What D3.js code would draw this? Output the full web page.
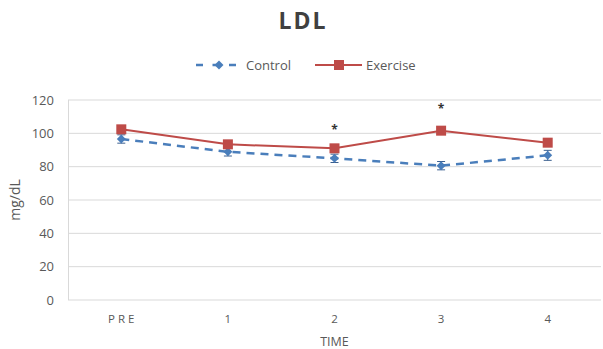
<!DOCTYPE html>
<html><head><meta charset="utf-8">
<script src="https://cdn.jsdelivr.net/npm/d3@7"></script>
<style>body{margin:0;background:#fff;font-family:"Open Sans",sans-serif}</style>
</head><body>
<svg id="c" width="603" height="349"></svg>
<script>
const categories = ["PRE","1","2","3","4"];
const controlValues = [96.6, 88.9, 85.0, 80.6, 86.8];
const controlErr = [2.5, 2.5, 2.5, 2.5, 3];
const exerciseValues = [102.4, 93.4, 91.0, 101.6, 94.4];
const exerciseErr = [1.5, 1.5, 1.5, 1.5, 1.5];
const yTicks = [0,20,40,60,80,100,120];
const sigCategories = ["2","3"];
const sigValues = [103.8, 116.0];

const svg = d3.select("#c");
const m = {l:68, r:2, t:100, b:49};
const W = 603, H = 349;
const x = d3.scaleBand().domain(categories).range([m.l, W-m.r]);
const y = d3.scaleLinear().domain([0,120]).range([H-m.b, m.t]);
const cx = d => x(d)+x.bandwidth()/2;

// gridlines
svg.append("g").selectAll("line").data(yTicks).join("line")
  .attr("x1", m.l).attr("x2", W-m.r)
  .attr("y1", d=>y(d)).attr("y2", d=>y(d))
  .attr("stroke", "#d9d9d9").attr("stroke-width", 1);
svg.append("line").attr("x1", m.l+0.5).attr("x2", m.l+0.5).attr("y1", y(120)).attr("y2", y(0))
  .attr("stroke","#d9d9d9");

// y axis labels
const ya = svg.append("g").attr("transform",`translate(${m.l},0)`)
  .call(d3.axisLeft(y).tickValues(yTicks).tickSize(0).tickPadding(14));
ya.select(".domain").remove();
ya.selectAll("text").attr("fill","#595959").style("font-size","13px").style("font-family","Open Sans, sans-serif");

// x axis labels
const xa = svg.append("g").attr("transform",`translate(0,${y(0)})`)
  .call(d3.axisBottom(x).tickSize(0).tickPadding(15));
xa.select(".domain").remove();
xa.selectAll("text").attr("fill","#595959").style("font-size","11.5px").style("font-family","Open Sans, sans-serif")
  .style("letter-spacing", d=> d==="PRE" ? "3px":"0px")
  .attr("dx", d=> d==="PRE" ? "1.5px":"0px");

// titles
svg.append("text").attr("x", 303).attr("y", 29).attr("text-anchor","middle")
  .style("font-size","23px").style("font-weight","bold").attr("fill","#404040").style("letter-spacing","2px").text("LDL");
svg.append("text").attr("x", (m.l+W-m.r)/2).attr("y", 346).attr("text-anchor","middle")
  .style("font-size","12.5px").attr("fill","#595959").text("TIME");
svg.append("text").attr("transform",`translate(20,${(y(0)+y(120))/2}) rotate(-90)`).attr("text-anchor","middle")
  .style("font-size","14px").attr("fill","#595959").text("mg/dL");

const blue = "#4a7ebb", red = "#be4b48";
const line = d3.line().x(d=>cx(d.c)).y(d=>y(d.v));
const ctrl = categories.map((c,i)=>({c, v:controlValues[i], e:controlErr[i]}));
const exer = categories.map((c,i)=>({c, v:exerciseValues[i], e:exerciseErr[i]}));

// error bars
function errBars(data, color){
  const g = svg.append("g");
  g.selectAll("line.v").data(data).join("line")
    .attr("x1",d=>cx(d.c)).attr("x2",d=>cx(d.c)).attr("y1",d=>y(d.v-d.e)).attr("y2",d=>y(d.v+d.e))
    .attr("stroke",color).attr("stroke-width",1);
  g.selectAll("line.h1").data(data).join("line")
    .attr("x1",d=>cx(d.c)-4).attr("x2",d=>cx(d.c)+4).attr("y1",d=>y(d.v-d.e)).attr("y2",d=>y(d.v-d.e))
    .attr("stroke",color).attr("stroke-width",1);
  g.selectAll("line.h2").data(data).join("line")
    .attr("x1",d=>cx(d.c)-4).attr("x2",d=>cx(d.c)+4).attr("y1",d=>y(d.v+d.e)).attr("y2",d=>y(d.v+d.e))
    .attr("stroke",color).attr("stroke-width",1);
}
errBars(ctrl, "#3a5f8f");

const diamond = d3.symbol(d3.symbolSquare, 40);
svg.append("path").datum(ctrl).attr("d", line).attr("fill","none").attr("stroke",blue)
  .attr("stroke-width",2.5).attr("stroke-dasharray","8,6");
svg.append("g").selectAll("path").data(ctrl).join("path")
  .attr("d", diamond)
  .attr("transform", d=>`translate(${cx(d.c)},${y(d.v)}) rotate(45)`).attr("fill",blue);

svg.append("path").datum(exer).attr("d", line).attr("fill","none").attr("stroke",red).attr("stroke-width",2);
svg.append("g").selectAll("rect").data(exer).join("rect")
  .attr("x", d=>cx(d.c)-5).attr("y", d=>y(d.v)-5).attr("width",10).attr("height",10).attr("fill",red);

// significance asterisks
svg.append("g").selectAll("text").data(sigCategories).join("text")
  .attr("x", d=>cx(d)).attr("y", (d,i)=>y(sigValues[i])+6.7).attr("text-anchor","middle")
  .style("font-size","12px").style("font-weight","bold").attr("fill","#333").text("*");

// legend
const lg = svg.append("g");
lg.append("line").attr("x1",196).attr("x2",242).attr("y1",65).attr("y2",65).attr("stroke",blue)
  .attr("stroke-width",2.5).attr("stroke-dasharray","7,9.5");
lg.append("path").attr("d", diamond).attr("transform","translate(219,65) rotate(45)").attr("fill",blue);
lg.append("text").attr("x",246).attr("y",69.5).style("font-size","13px").attr("fill","#595959").text("Control");
lg.append("line").attr("x1",315).attr("x2",362).attr("y1",65).attr("y2",65).attr("stroke",red).attr("stroke-width",2);
lg.append("rect").attr("x",334).attr("y",60).attr("width",10).attr("height",10).attr("fill",red);
lg.append("text").attr("x",366).attr("y",69.5).style("font-size","13px").attr("fill","#595959").text("Exercise");
</script>
</body></html>
